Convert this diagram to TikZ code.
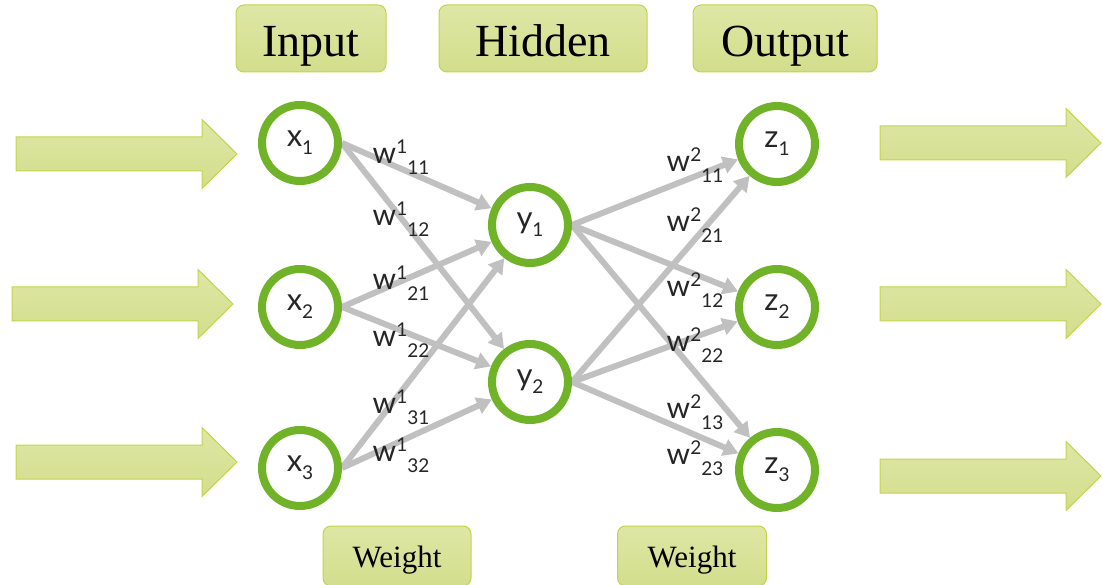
\documentclass[tikz,border=0pt]{standalone}
\usepackage{fontspec}
\setmainfont{Liberation Serif}
\newfontfamily\lblfont{Lato}
\usetikzlibrary{arrows.meta}
\pgfdeclarelayer{bg}
\pgfsetlayers{bg,main}
\definecolor{ngreen}{RGB}{112,178,40}
\definecolor{egray}{RGB}{192,192,192}
\definecolor{boxtop}{RGB}{222,231,165}
\definecolor{boxbot}{RGB}{210,222,140}
\definecolor{boxline}{RGB}{196,212,72}
\newcommand\sublbl[1]{\raisebox{-8pt}{\fontsize{19}{19}\selectfont #1}}
\newcommand\wsub[1]{\raisebox{-11pt}{\fontsize{19}{19}\selectfont #1}}
\newcommand\wsup[1]{\raisebox{10pt}{\fontsize{19}{19}\selectfont #1}}
\newcommand\wlbl[2]{w\wsup{#1}\wsub{#2}}
\begin{document}
\begin{tikzpicture}[x=1pt,y=-1pt,
  neuron/.style={circle,draw=ngreen,line width=8pt,fill=white,minimum size=76pt,inner sep=0pt,
    font=\lblfont\fontsize{31}{31}\selectfont,text=black!85},
  edge/.style={draw=egray,line width=6pt,-{Triangle[length=15pt,width=17pt]}},
  wtext/.style={font=\lblfont\fontsize{30}{30}\selectfont,text=black!85,inner sep=0pt},
  titlebox/.style={draw=boxline,line width=1pt,rounded corners=8pt,top color=boxtop,bottom color=boxbot,
    inner sep=0pt},
  blockarrow/.style={draw=boxline,line width=1pt,top color=boxtop,bottom color=boxbot}
]
\useasboundingbox (0,0) rectangle (1103,585);
\tikzset{barrow/.pic={\path[blockarrow] (0,-17)--(186,-17)--(186,-34.5)--(221,0)--(186,34.5)--(186,17)--(0,17)--cycle;}}

% block arrows
\pic at (16,154) {barrow};
\pic at (12,304) {barrow};
\pic at (16,462) {barrow};
\pic at (880,143) {barrow};
\pic at (880,304) {barrow};
\pic at (880,476) {barrow};

% title boxes
\node[titlebox,minimum width=150pt,minimum height=67pt,text height=37pt,text depth=0pt] (tin) at (311,38.5) {\fontsize{46}{46}\selectfont Input};
\node[titlebox,minimum width=208pt,minimum height=67pt,text height=37pt,text depth=0pt] (thid) at (543,38.5) {\fontsize{46}{46}\selectfont Hidden};
\node[titlebox,minimum width=184pt,minimum height=67pt,text height=37pt,text depth=0pt] (tout) at (785,38.5) {\fontsize{46}{46}\selectfont Output};
\node[titlebox,minimum width=148pt,minimum height=60pt,text height=22pt,text depth=0pt] (wa) at (397,556) {\fontsize{31}{31}\selectfont Weight};
\node[titlebox,minimum width=149pt,minimum height=60pt,text height=22pt,text depth=0pt] (wb) at (692,556) {\fontsize{31}{31}\selectfont Weight};

% neurons
\node[neuron] (x1) at (300,143) {x\sublbl{1}};
\node[neuron] (x2) at (300,307) {x\sublbl{2}};
\node[neuron] (x3) at (300,468) {x\sublbl{3}};
\node[neuron] (y1) at (530,225) {y\sublbl{1}};
\node[neuron] (y2) at (530,382) {y\sublbl{2}};
\node[neuron] (z1) at (777,144) {z\sublbl{1}};
\node[neuron] (z2) at (777,307) {z\sublbl{2}};
\node[neuron] (z3) at (777,470) {z\sublbl{3}};

% edges
\begin{pgfonlayer}{bg}
\foreach \s/\t in {x1/y1,x1/y2,x2/y1,x2/y2,x3/y1,x3/y2,y1/z1,y1/z2,y1/z3,y2/z1,y2/z2,y2/z3}
  \draw[edge] (\s.east) -- (\t);
\end{pgfonlayer}

% weight labels
\node[wtext] (w111) at (401,157) {\wlbl{1}{11}};
\node[wtext] (w112) at (401,219) {\wlbl{1}{12}};
\node[wtext] (w121) at (401,283) {\wlbl{1}{21}};
\node[wtext] (w122) at (401,340) {\wlbl{1}{22}};
\node[wtext] (w131) at (401,407) {\wlbl{1}{31}};
\node[wtext] (w132) at (401,455) {\wlbl{1}{32}};
\node[wtext] (w211) at (695,165) {\wlbl{2}{11}};
\node[wtext] (w221) at (695,225) {\wlbl{2}{21}};
\node[wtext] (w212) at (695,290) {\wlbl{2}{12}};
\node[wtext] (w222) at (695,345) {\wlbl{2}{22}};
\node[wtext] (w213) at (695,412) {\wlbl{2}{13}};
\node[wtext] (w223) at (695,458) {\wlbl{2}{23}};
\end{tikzpicture}
\end{document}
